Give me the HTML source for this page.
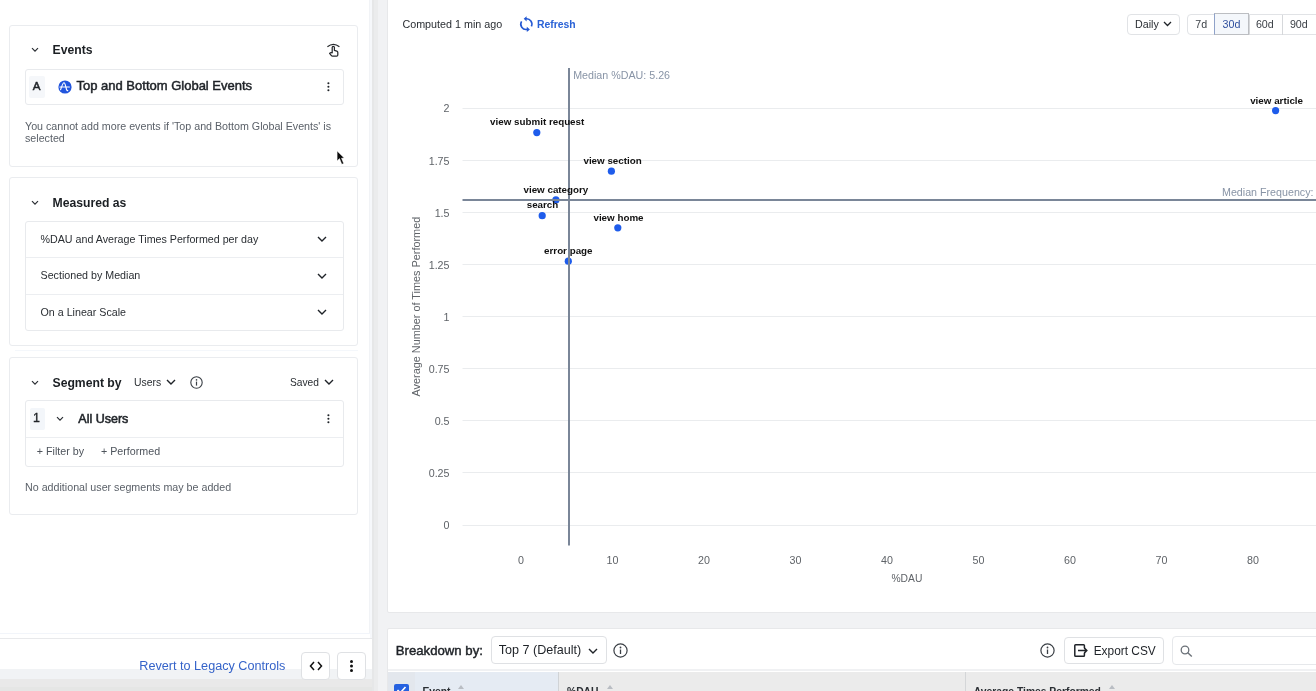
<!DOCTYPE html>
<html><head><meta charset="utf-8">
<style>
*{box-sizing:border-box;margin:0;padding:0}
html,body{width:1316px;height:691px;overflow:hidden;background:#fff;font-family:"Liberation Sans",sans-serif;color:#1f2328}
.a{position:absolute;white-space:nowrap}
.card{position:absolute;border:1px solid #eaecef;border-radius:3px;background:#fff}
.box{position:absolute;border:1px solid #e8eaed;border-radius:3px;background:#fff}
.h{font-weight:700;font-size:12.2px;color:#1b1f23}
.t11{font-size:10.7px;color:#2a2e33}
.g11{font-size:10.7px;color:#5b6169}
svg{position:absolute;overflow:visible}
</style></head><body>
<div style="position:absolute;left:0;top:0;width:1316px;height:691px;overflow:hidden;background:#fff;will-change:transform">

<!-- LEFT PANEL -->
<div class="a" style="left:0;top:0;width:370px;height:691px;background:#fff"></div>
<div class="a" style="left:369px;top:0;width:1px;height:634px;background:#f1f3f6"></div>

<!-- Events card -->
<div class="card" style="left:9px;top:25px;width:349px;height:142px"></div>
<svg style="left:31px;top:47px" width="8" height="6" viewBox="0 0 8 6"><path d="M1 1.2 L4 4.2 L7 1.2" fill="none" stroke="#2a2e33" stroke-width="1.2"/></svg>
<div class="a h" style="left:52.5px;top:43px">Events</div>
<svg style="left:324px;top:40px" width="20" height="20" viewBox="0 0 20 20"><path d="M3.4 6.7 Q9.4 1.9 15.4 6.7" fill="none" stroke="#26292d" stroke-width="1.25"/><path d="M8.2 12.6 L8.2 7.6 Q8.2 6.4 9.3 6.4 Q10.4 6.4 10.4 7.6 L10.4 10.3 L12.8 11.1 Q13.8 11.5 13.8 12.6 L13.8 15 Q13.8 16.2 12.6 16.2 L8.6 16.2 Q7.8 16.2 7.2 15.4 L5.6 13.4 Q6.6 12.3 8.2 12.9 Z" fill="#fff" stroke="#26292d" stroke-width="1.25" stroke-linejoin="round"/></svg>

<div class="box" style="left:25px;top:68.5px;width:319px;height:36px"></div>
<div class="a" style="left:29px;top:75.5px;width:15.5px;height:22px;background:#f5f7fa;border-radius:2px"></div>
<div class="a" style="left:32.8px;top:79.3px;font-size:11.6px;color:#1f2328;-webkit-text-stroke:0.5px #1f2328">A</div>
<svg style="left:58.4px;top:79.5px" width="14" height="14" viewBox="0 0 14 14"><circle cx="7" cy="7" r="6.6" fill="#2255dd"/><path d="M2.6 9.6 C4 6 4.8 2.7 6 2.8 C7.2 2.9 7.8 7 8.4 9 C8.8 10.4 9.2 11 9.7 10.5 M1.9 7 L11.4 7" fill="none" stroke="#fff" stroke-width="1.15" stroke-linecap="round"/></svg>
<div class="a" id="tbge" style="left:76.5px;top:78px;font-size:13px;color:#1f2328;-webkit-text-stroke:0.5px #1f2328">Top and Bottom Global Events</div>
<svg style="left:326px;top:81px" width="5" height="12" viewBox="0 0 5 12"><circle cx="2.4" cy="2.3" r="1.05" fill="#1f2328"/><circle cx="2.4" cy="5.8" r="1.05" fill="#1f2328"/><circle cx="2.4" cy="9.3" r="1.05" fill="#1f2328"/></svg>

<div class="a g11" id="cannot" style="left:25px;top:121px;line-height:11.7px;white-space:normal;width:320px">You cannot add more events if 'Top and Bottom Global Events' is<br>selected</div>

<!-- cursor -->
<svg style="left:336px;top:149.7px" width="12" height="16" viewBox="0 0 12 16"><path d="M1.1 1 L1.1 10.9 L3.5 8.6 L5.8 14.3 L7.7 13.5 L5.5 8.2 L8.2 8 Z" fill="#0a0a0a" stroke="#fff" stroke-width="0.5" stroke-linejoin="round"/></svg>

<!-- Measured as card -->
<div class="card" style="left:9px;top:177px;width:349px;height:169px"></div>
<svg style="left:31px;top:200px" width="8" height="6" viewBox="0 0 8 6"><path d="M1 1.2 L4 4.2 L7 1.2" fill="none" stroke="#2a2e33" stroke-width="1.2"/></svg>
<div class="a h" style="left:52.5px;top:196px">Measured as</div>
<div class="box" style="left:25px;top:221px;width:319px;height:110px"></div>
<div class="a" style="left:26px;top:257px;width:317px;height:1px;background:#eceef1"></div>
<div class="a" style="left:26px;top:293.5px;width:317px;height:1px;background:#eceef1"></div>
<div class="a t11" style="left:40.5px;top:233px">%DAU and Average Times Performed per day</div>
<div class="a t11" style="left:40.5px;top:268.8px">Sectioned by Median</div>
<div class="a t11" style="left:40.5px;top:306px">On a Linear Scale</div>
<svg style="left:317px;top:236px" width="10" height="6" viewBox="0 0 10 6"><path d="M1 1 L5 5 L9 1" fill="none" stroke="#1f2328" stroke-width="1.4"/></svg>
<svg style="left:317px;top:272.5px" width="10" height="6" viewBox="0 0 10 6"><path d="M1 1 L5 5 L9 1" fill="none" stroke="#1f2328" stroke-width="1.4"/></svg>
<svg style="left:317px;top:309px" width="10" height="6" viewBox="0 0 10 6"><path d="M1 1 L5 5 L9 1" fill="none" stroke="#1f2328" stroke-width="1.4"/></svg>

<div class="a" style="left:15px;top:350px;width:343px;height:1px;background:#f4f7fb"></div>
<!-- Segment by card -->
<div class="card" style="left:9px;top:357px;width:349px;height:158px"></div>
<svg style="left:31px;top:379.5px" width="8" height="6" viewBox="0 0 8 6"><path d="M1 1.2 L4 4.2 L7 1.2" fill="none" stroke="#2a2e33" stroke-width="1.2"/></svg>
<div class="a h" style="left:52.5px;top:375.7px">Segment by</div>
<div class="a t11" style="left:134px;top:376.8px;font-size:10.4px">Users</div>
<svg style="left:166px;top:379px" width="10" height="6" viewBox="0 0 10 6"><path d="M1 1 L5 5 L9 1" fill="none" stroke="#1f2328" stroke-width="1.4"/></svg>
<svg style="left:190px;top:376px" width="13" height="13" viewBox="0 0 13 13"><circle cx="6.5" cy="6.5" r="5.7" fill="none" stroke="#3a3f45" stroke-width="1.1"/><circle cx="6.5" cy="3.9" r="0.8" fill="#3a3f45"/><path d="M6.5 5.6 L6.5 9.6" stroke="#3a3f45" stroke-width="1.2"/></svg>
<div class="a t11" style="left:290px;top:376.8px;font-size:10.2px">Saved</div>
<svg style="left:323.5px;top:379px" width="10" height="6" viewBox="0 0 10 6"><path d="M1 1 L5 5 L9 1" fill="none" stroke="#1f2328" stroke-width="1.4"/></svg>

<div class="box" style="left:25px;top:400px;width:319px;height:67px"></div>
<div class="a" style="left:26px;top:436.5px;width:317px;height:1px;background:#eceef1"></div>
<div class="a" style="left:29.5px;top:408.3px;width:15px;height:21.4px;background:#f3f6fa;border-radius:2px"></div>
<div class="a" style="left:33px;top:410.6px;font-size:12.4px;color:#1f2328;-webkit-text-stroke:0.35px #1f2328">1</div>
<svg style="left:55.5px;top:416px" width="8" height="6" viewBox="0 0 8 6"><path d="M1 1.2 L4 4.2 L7 1.2" fill="none" stroke="#2a2e33" stroke-width="1.2"/></svg>
<div class="a" style="left:78.3px;top:411.6px;font-size:12.5px;color:#1f2328;-webkit-text-stroke:0.55px #1f2328">All Users</div>
<svg style="left:326px;top:413px" width="5" height="12" viewBox="0 0 5 12"><circle cx="2.4" cy="2.3" r="1.05" fill="#1f2328"/><circle cx="2.4" cy="5.8" r="1.05" fill="#1f2328"/><circle cx="2.4" cy="9.3" r="1.05" fill="#1f2328"/></svg>
<div class="a g11" style="left:36.8px;top:445px;color:#4e545c">+ Filter by</div>
<div class="a g11" style="left:101px;top:445px;color:#4e545c">+ Performed</div>
<div class="a g11" style="left:25px;top:480.5px">No additional user segments may be added</div>

<!-- footer -->
<div class="a" style="left:0;top:633px;width:370px;height:1px;background:#f2f5fa"></div>
<div class="a" style="left:0;top:638px;width:372px;height:1px;background:#e8e9eb"></div>
<!-- bottom overlay bands -->
<div class="a" style="left:0;top:669px;width:373px;height:10px;background:rgba(60,80,110,0.07)"></div>
<div class="a" style="left:0;top:679px;width:373px;height:8px;background:rgba(0,0,0,0.085)"></div>
<div class="a" style="left:0;top:687px;width:373px;height:4px;background:rgba(20,30,20,0.11)"></div>

<div class="a" id="revert" style="left:139.3px;top:658.5px;font-size:12.65px;color:#3563c9">Revert to Legacy Controls</div>
<div class="a" style="left:301px;top:651.5px;width:29px;height:28px;border:1px solid #dfe1e4;border-radius:4px;background:#fff"></div>
<svg style="left:309px;top:661px" width="14" height="10" viewBox="0 0 14 10"><path d="M5 1 L1.5 5 L5 9 M9 1 L12.5 5 L9 9" fill="none" stroke="#111" stroke-width="1.5"/></svg>
<div class="a" style="left:337px;top:651.5px;width:29px;height:28px;border:1px solid #dfe1e4;border-radius:4px;background:#fff"></div>
<svg style="left:349px;top:659px" width="5" height="14" viewBox="0 0 5 14"><circle cx="2.5" cy="2.5" r="1.5" fill="#111"/><circle cx="2.5" cy="7" r="1.5" fill="#111"/><circle cx="2.5" cy="11.5" r="1.5" fill="#111"/></svg>
<!-- DIVIDER -->
<div class="a" style="left:370px;top:0;width:2px;height:638px;background:#f6f8fb"></div>
<div class="a" style="left:372px;top:0;width:944px;height:691px;background:#f1f2f4"></div>
<div class="a" style="left:372px;top:0;width:2px;height:691px;background:#e6e7e8"></div>
<div class="a" style="left:374px;top:0;width:4px;height:691px;background:#ebeced"></div>

<!-- RIGHT PANEL cards -->
<div class="a" style="left:387px;top:-4px;width:935px;height:617px;background:#fff;border:1px solid #e7e8ea;border-radius:2px"></div>
<div class="a" style="left:387px;top:627.5px;width:935px;height:70px;background:#fff;border:1px solid #e7e8ea;border-radius:2px"></div>

<!-- top bar -->
<div class="a" id="computed" style="left:402.4px;top:18.4px;font-size:10.75px;color:#2a2e33">Computed 1 min ago</div>
<svg style="left:516px;top:12px" width="24" height="24" viewBox="0 0 24 24"><path d="M10 6.8 A5.3 5.3 0 0 1 15.4 14.3 M5.6 9.4 A5.3 5.3 0 0 0 11.2 17.4" fill="none" stroke="#2458d3" stroke-width="1.6"/><path d="M7.7 6.8 L10.6 4.2 L10.6 9.4 Z M13.9 17.4 L10.8 14.8 L10.8 20 Z" fill="#2458d3"/></svg>
<div class="a" id="refresh" style="left:537px;top:19.3px;font-size:10.4px;font-weight:700;color:#2a62d6">Refresh</div>

<div class="a" style="left:1127.4px;top:13.7px;width:53px;height:21.6px;border:1px solid #e1e3e6;border-radius:4px;background:#fff"></div>
<div class="a t11" style="left:1135px;top:17.5px">Daily</div>
<svg style="left:1163px;top:21px" width="9" height="6" viewBox="0 0 9 6"><path d="M1 1 L4.5 4.5 L8 1" fill="none" stroke="#1f2328" stroke-width="1.3"/></svg>

<div class="a" style="left:1187.3px;top:13.7px;width:140px;height:21.6px;border:1px solid #e1e3e6;border-radius:4px;background:#fff"></div>
<div class="a" style="left:1214.2px;top:13.4px;width:35px;height:22px;border:1.5px solid #bcbec2;border-left:1px solid #8fa2c9;background:#f4f7fb"></div>
<div class="a" style="left:1249.3px;top:14.5px;width:1px;height:20px;background:#d6d8db"></div>
<div class="a" style="left:1282.4px;top:14.5px;width:1px;height:20px;background:#d6d8db"></div>
<div class="a t11" style="left:1195.2px;top:17.5px;color:#3a3f45">7d</div>
<div class="a t11" style="left:1222.5px;top:17.5px;color:#2f4f9e">30d</div>
<div class="a t11" style="left:1255.9px;top:17.5px;color:#3a3f45">60d</div>
<div class="a t11" style="left:1289.9px;top:17.5px;color:#3a3f45">90d</div>

<!-- CHART -->
<svg style="left:0;top:0" width="1316" height="691" viewBox="0 0 1316 691">
<g stroke="#eaecee" stroke-width="1">
<line x1="462.5" y1="108.5" x2="1316" y2="108.5"/>
<line x1="462.5" y1="160.5" x2="1316" y2="160.5"/>
<line x1="462.5" y1="212.5" x2="1316" y2="212.5"/>
<line x1="462.5" y1="264.5" x2="1316" y2="264.5"/>
<line x1="462.5" y1="316.5" x2="1316" y2="316.5"/>
<line x1="462.5" y1="368.5" x2="1316" y2="368.5"/>
<line x1="462.5" y1="420.5" x2="1316" y2="420.5"/>
<line x1="462.5" y1="472.5" x2="1316" y2="472.5"/>
<line x1="462.5" y1="525.5" x2="1316" y2="525.5"/>
</g>
<g font-family="Liberation Sans" font-size="10.7" fill="#5f6368" text-anchor="end">
<text x="449.5" y="112.4">2</text>
<text x="449.5" y="164.5">1.75</text>
<text x="449.5" y="216.5">1.5</text>
<text x="449.5" y="268.6">1.25</text>
<text x="449.5" y="320.6">1</text>
<text x="449.5" y="372.7">0.75</text>
<text x="449.5" y="424.7">0.5</text>
<text x="449.5" y="476.8">0.25</text>
<text x="449.5" y="528.9">0</text>
</g>
<g font-family="Liberation Sans" font-size="10.7" fill="#5f6368" text-anchor="middle">
<text x="520.9" y="563.8">0</text>
<text x="612.4" y="563.8">10</text>
<text x="703.9" y="563.8">20</text>
<text x="795.4" y="563.8">30</text>
<text x="886.9" y="563.8">40</text>
<text x="978.4" y="563.8">50</text>
<text x="1069.9" y="563.8">60</text>
<text x="1161.4" y="563.8">70</text>
<text x="1252.9" y="563.8">80</text>
<text x="906.9" y="582.2" font-size="10.3">%DAU</text>
<text transform="translate(420.2 306.6) rotate(-90)" x="0" y="0" font-size="10.86">Average Number of Times Performed</text>
</g>
<!-- dots -->
<g fill="#1e5ceb">
<circle cx="536.8" cy="132.6" r="3.6"/>
<circle cx="611.4" cy="171.2" r="3.6"/>
<circle cx="555.9" cy="199.9" r="3.6"/>
<circle cx="542.2" cy="215.7" r="3.6"/>
<circle cx="617.8" cy="227.8" r="3.6"/>
<circle cx="568.3" cy="261.2" r="3.6"/>
<circle cx="1275.6" cy="110.6" r="3.6"/>
</g>
<!-- median lines -->
<line x1="569" y1="68" x2="569" y2="545.5" stroke="#7a8698" stroke-width="2"/>
<line x1="462.5" y1="200" x2="1316" y2="200" stroke="#7a8698" stroke-width="2"/>
<g font-family="Liberation Sans" font-size="10.7" fill="#8894a6">
<text x="573.2" y="78.8">Median %DAU: 5.26</text>
<text x="1222" y="195.6">Median Frequency: 1.56</text>
</g>
<g font-family="Liberation Sans" font-size="9.8" font-weight="700" fill="#111" text-anchor="middle">
<text x="537.2" y="125.4">view submit request</text>
<text x="612.6" y="163.9">view section</text>
<text x="555.9" y="192.6">view category</text>
<text x="542.5" y="208.4">search</text>
<text x="618.5" y="220.5">view home</text>
<text x="568.3" y="254">error page</text>
<text x="1276.6" y="103.5">view article</text>
</g>
</svg>

<!-- BREAKDOWN -->
<div class="a" style="left:388px;top:669px;width:928px;height:2px;background:#f0f1f3"></div>
<div class="a" id="bd" style="left:395.7px;top:642.9px;font-size:13.2px;color:#1f2328;-webkit-text-stroke:0.45px #1f2328">Breakdown by:</div>
<div class="a" style="left:490.5px;top:635.7px;width:116.4px;height:28.4px;border:1px solid #dfe1e4;border-radius:4px;background:#fff"></div>
<div class="a" id="top7" style="left:498.7px;top:643px;font-size:12.6px;color:#1f2328">Top 7 (Default)</div>
<svg style="left:588px;top:647.5px" width="10" height="6" viewBox="0 0 10 6"><path d="M1 1 L5 5 L9 1" fill="none" stroke="#1f2328" stroke-width="1.4"/></svg>
<svg style="left:612.5px;top:642.5px" width="15" height="15" viewBox="0 0 15 15"><circle cx="7.5" cy="7.5" r="6.6" fill="none" stroke="#3a3f45" stroke-width="1.2"/><circle cx="7.5" cy="4.5" r="0.9" fill="#3a3f45"/><path d="M7.5 6.5 L7.5 11" stroke="#3a3f45" stroke-width="1.3"/></svg>

<svg style="left:1040px;top:643px" width="15" height="15" viewBox="0 0 15 15"><circle cx="7.5" cy="7.5" r="6.6" fill="none" stroke="#3a3f45" stroke-width="1.2"/><circle cx="7.5" cy="4.5" r="0.9" fill="#3a3f45"/><path d="M7.5 6.5 L7.5 11" stroke="#3a3f45" stroke-width="1.3"/></svg>
<div class="a" style="left:1064.3px;top:636.5px;width:99.4px;height:27.8px;border:1px solid #dfe1e4;border-radius:4px;background:#fff"></div>
<svg style="left:1074px;top:643.5px" width="14" height="13" viewBox="0 0 14 13"><path d="M10.4 4 L10.4 1.6 Q10.4 0.8 9.6 0.8 L1.6 0.8 Q0.8 0.8 0.8 1.6 L0.8 11.4 Q0.8 12.2 1.6 12.2 L9.6 12.2 Q10.4 12.2 10.4 11.4 L10.4 9" fill="none" stroke="#1f2328" stroke-width="1.5"/><path d="M4 6.5 L12.8 6.5 M10.2 3.9 L12.8 6.5 L10.2 9.1" fill="none" stroke="#1f2328" stroke-width="1.5"/></svg>
<div class="a" id="export" style="left:1093.7px;top:643.5px;font-size:11.9px;color:#1f2328">Export CSV</div>
<div class="a" style="left:1171.7px;top:636px;width:160px;height:28.8px;border:1px solid #e6e8eb;border-radius:4px;background:#fff"></div>
<svg style="left:1179.5px;top:644.5px" width="13" height="12" viewBox="0 0 13 12"><circle cx="5" cy="5" r="3.8" fill="none" stroke="#6b7178" stroke-width="1.3"/><path d="M7.8 7.8 L11.8 11.6" stroke="#6b7178" stroke-width="1.4"/></svg>

<!-- table header -->
<div class="a" style="left:388px;top:672px;width:928px;height:19px;background:#ebebeb"></div>
<div class="a" style="left:388px;top:672px;width:27px;height:19px;background:#e3e7ed"></div>
<div class="a" style="left:415px;top:672px;width:143.4px;height:19px;background:#e5ebf3"></div>
<div class="a" style="left:558.4px;top:672px;width:1px;height:19px;background:#d0d3d6"></div>
<div class="a" style="left:965px;top:672px;width:1px;height:19px;background:#d4d6d8"></div>
<div class="a" style="left:394px;top:683.7px;width:14.7px;height:14px;background:#2561e0;border-radius:2px"></div>
<svg style="left:396px;top:686px" width="11" height="8" viewBox="0 0 11 8"><path d="M1.5 4 L4.3 6.8 L9.5 1" fill="none" stroke="#fff" stroke-width="1.6"/></svg>
<div class="a" style="left:422.5px;top:686px;font-size:10.3px;font-weight:700;color:#2a2e33">Event</div>
<div class="a" style="left:567px;top:686px;font-size:10.3px;font-weight:700;color:#2a2e33">%DAU</div>
<div class="a" style="left:973.8px;top:686px;font-size:10.3px;font-weight:700;color:#2a2e33">Average Times Performed</div>
<svg style="left:458px;top:685px" width="6" height="4" viewBox="0 0 6 4"><path d="M0 4 L3 0 L6 4 Z" fill="#b9bdc3"/></svg>
<svg style="left:606.5px;top:685px" width="6" height="4" viewBox="0 0 6 4"><path d="M0 4 L3 0 L6 4 Z" fill="#b9bdc3"/></svg>
<svg style="left:1109px;top:685px" width="6" height="4" viewBox="0 0 6 4"><path d="M0 4 L3 0 L6 4 Z" fill="#b9bdc3"/></svg>

</div>
</body></html>
